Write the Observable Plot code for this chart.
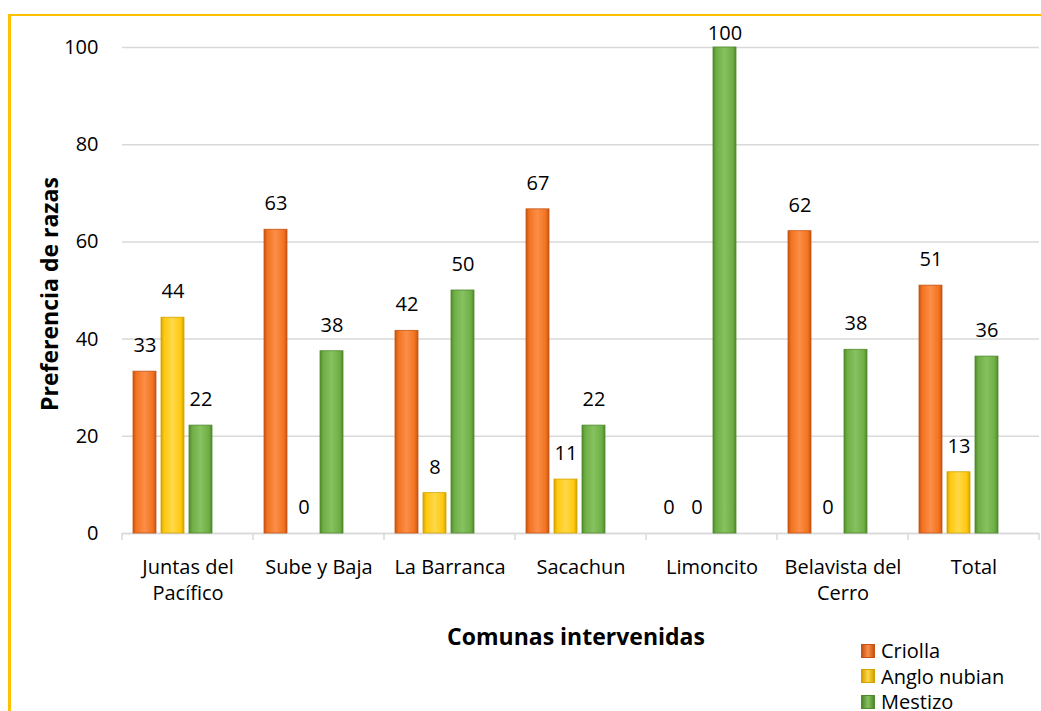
<!DOCTYPE html>
<html>
<head>
<meta charset="utf-8">
<script src="https://cdn.jsdelivr.net/npm/d3@7"></script>
<script src="https://cdn.jsdelivr.net/npm/@observablehq/plot@0.6"></script>
<style>
  html, body { margin: 0; padding: 0; background: #fff; overflow: hidden; }
  #wrap { position: relative; width: 1041px; height: 711px; font-family: "Open Sans", sans-serif; color: #000; }
  #frame { position: absolute; left: 8px; top: 14px; width: 1100px; height: 800px; border-top: 2px solid #ffc000; border-left: 3px solid #ffc000; box-sizing: border-box; }
  #chart { position: absolute; left: 0; top: 0; }
  .ttl { position: absolute; font-weight: bold; font-size: 23px; white-space: nowrap; }
  #xtitle { left: 576px; top: 636px; transform: translate(-50%, -50%); }
  #ytitle { left: 49px; top: 294px; transform: translate(-50%, -50%) rotate(-90deg); }
  #legend { position: absolute; left: 861px; top: 638px; font-size: 20px; }
  .lg { display: flex; align-items: center; height: 25.5px; }
  .sw { width: 14px; height: 14px; margin-right: 6px; box-sizing: border-box; }
</style>
</head>
<body>
<div id="wrap">
  <div id="frame"></div>
  <div id="chart"></div>
  <div class="ttl" id="xtitle">Comunas intervenidas</div>
  <div class="ttl" id="ytitle">Preferencia de razas</div>
  <div id="legend"></div>
</div>
<script>
// ---- data ----
const categories = ["Juntas del Pacífico", "Sube y Baja", "La Barranca", "Sacachun", "Limoncito", "Belavista del Cerro", "Total"];
const categoryLabels = ["Juntas del\nPacífico", "Sube y Baja", "La Barranca", "Sacachun", "Limoncito", "Belavista del\nCerro", "Total"];
const series = ["Criolla", "Anglo nubian", "Mestizo"];
const criolla = [33.3, 62.5, 41.7, 66.7, 0, 62.2, 51.0];
const angloNubian = [44.4, 0, 8.3, 11.1, 0, 0, 12.6];
const mestizo = [22.2, 37.5, 50.0, 22.2, 100, 37.8, 36.4];
const yTicks = [0, 20, 40, 60, 80, 100];
const seriesColors = {
  "Criolla": ["#c55414", "#f2731f", "#fb8e48"],
  "Anglo nubian": ["#d4a200", "#ffc90e", "#ffd84a"],
  "Mestizo": ["#4e8a2c", "#6fae45", "#86c260"]
};

const seriesValues = [criolla, angloNubian, mestizo];
const data = categories.flatMap((c, i) => series.map((s, j) => ({comuna: c, raza: s, valor: seriesValues[j][i]})));
const gradId = s => "g" + series.indexOf(s);
const labelOf = c => categoryLabels[categories.indexOf(c)];
const fmt = d3.format(".0f");

const plot = Plot.plot({
  width: 1041,
  height: 711,
  marginLeft: 120,
  marginRight: 1,
  marginTop: 47,
  marginBottom: 178,
  style: {fontFamily: "'Open Sans', sans-serif", fontSize: "20px", color: "#000", background: "transparent", overflow: "visible"},
  fx: {domain: categories, padding: 0, label: null, axis: null},
  x: {domain: series, axis: null, paddingInner: 0.175, paddingOuter: 0.893, align: 0.216},
  y: {domain: [0, 100], label: null},
  color: {domain: series, range: series.map(s => `url(#${gradId(s)})`)},
  marks: [
    Plot.gridY(yTicks, {stroke: "#d9d9d9", strokeOpacity: 1, strokeWidth: 1.5}),
    Plot.axisY(yTicks, {tickSize: 0, tickPadding: 24, label: null, fontSize: 20}),
    Plot.axisFx({anchor: "bottom", tickSize: 0, tickPadding: 22, label: null, lineHeight: 1.3, fontSize: 20, tickFormat: labelOf}),
    Plot.ruleY([0], {stroke: "#d9d9d9", strokeWidth: 1.5}),
    Plot.barY(data, {fx: "comuna", x: "raza", y: "valor", fill: "raza",
      stroke: d => seriesColors[d.raza][0], strokeWidth: 0.8}),
    // labels above bars; the label of a full-height bar is kept inside the chart frame
    Plot.text(data.filter(d => d.valor < 95), {fx: "comuna", x: "raza", y: "valor", text: d => fmt(d.valor),
      dy: -26, lineAnchor: "middle", fontSize: 20, fill: "#000"}),
    Plot.text(data.filter(d => d.valor >= 95), {fx: "comuna", x: "raza", y: "valor", text: d => fmt(d.valor),
      dy: -14, lineAnchor: "middle", fontSize: 20, fill: "#000"})
  ]
});

const svg = d3.select(plot);
const defs = svg.insert("defs", ":first-child");
series.forEach(s => {
  const [dark, mid, light] = seriesColors[s];
  const g = defs.append("linearGradient").attr("id", gradId(s)).attr("x1", 0).attr("x2", 1).attr("y1", 0).attr("y2", 0);
  [[0, dark], [0.14, mid], [0.5, light], [0.86, mid], [1, dark]].forEach(([o, c]) =>
    g.append("stop").attr("offset", o).attr("stop-color", c));
});

// category boundary tick marks (Excel style), placed with the fx scale
const fx = plot.scale("fx");
const y = plot.scale("y");
const y0 = y.apply(0);
const bounds = categories.map(c => fx.apply(c)).concat([fx.apply(categories[categories.length - 1]) + fx.bandwidth]);
svg.append("g").selectAll("line").data(bounds).join("line")
  .attr("x1", d => d).attr("x2", d => d)
  .attr("y1", y0).attr("y2", y0 + 7)
  .attr("stroke", "#d9d9d9").attr("stroke-width", 1.5);

document.getElementById("chart").appendChild(plot);

// legend
const legend = d3.select("#legend");
series.forEach(s => {
  const [dark, mid, light] = seriesColors[s];
  const row = legend.append("div").attr("class", "lg");
  row.append("div").attr("class", "sw")
    .style("background", `linear-gradient(to right, ${dark}, ${light} 50%, ${dark})`)
    .style("border", `1px solid ${dark}`);
  row.append("span").text(s);
});
</script>
</body>
</html>
